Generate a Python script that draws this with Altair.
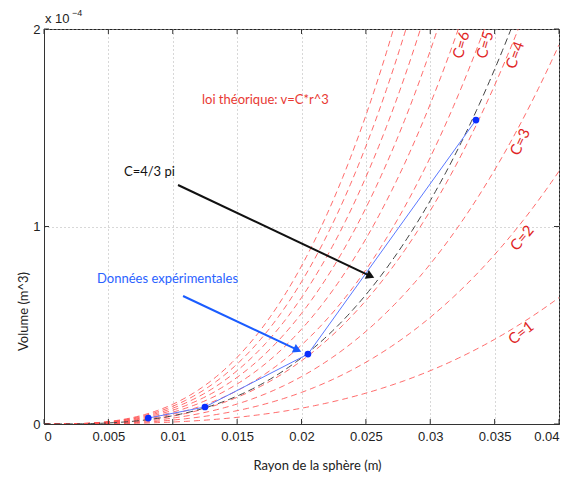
import altair as alt
import numpy as np
import pandas as pd

# ---- data ----
C_values = [1, 2, 3, 4, 5, 6, 7, 8, 9, 10]
C_sphere = 4.0 / 3.0 * np.pi
r_grid = np.linspace(0, 0.04, 201)

r_exp = [0.0081, 0.0125, 0.0205, 0.03355]
v_exp = [0.30e-5, 0.86e-5, 3.54e-5, 1.539e-4]

label_text = ["C=1", "C=2", "C=3", "C=4", "C=5", "C=6"]
label_r = [0.03705, 0.03713, 0.03697, 0.03658, 0.03425, 0.0324]
label_v = [0.461e-4, 0.942e-4, 1.428e-4, 1.868e-4, 1.919e-4, 1.919e-4]
label_angle = [322, 310, 295, 290, 286, 286]

x_ticks = [0, 0.005, 0.01, 0.015, 0.02, 0.025, 0.03, 0.035, 0.04]
y_ticks = [0, 1e-4, 2e-4]

curves = pd.DataFrame(
    [{"C": c, "r": r, "v": c * r ** 3} for c in C_values for r in r_grid]
)
sphere = pd.DataFrame({"r": r_grid, "v": C_sphere * r_grid ** 3})
exp = pd.DataFrame({"r": r_exp, "v": v_exp})
labels = pd.DataFrame({"t": label_text, "r": label_r, "v": label_v, "a": label_angle})

xs = alt.Scale(domain=[0, 0.04], nice=False)
ys = alt.Scale(domain=[0, 2e-4], nice=False)

X = alt.X("r:Q", scale=xs,
          axis=alt.Axis(values=x_ticks, format="~g", title="Rayon de la sphère (m)",
                        grid=True, gridDash=[1, 3], gridColor="#b0b0b0",
                        tickSize=0, labelPadding=6, labelFont="Liberation Sans",
                        labelFontSize=13, labelColor="#222", domainColor="#333",
                        titleFont="Lato", titleFontSize=13, titleFontWeight="normal",
                        titleColor="#222", titleX=273, titleY=41,
                        titleBaseline="middle", titleAlign="center"))
Y = alt.Y("v:Q", scale=ys,
          axis=alt.Axis(values=y_ticks, labelExpr="round(datum.value * 10000)",
                        title="Volume (m^3)",
                        grid=True, gridDash=[1, 3], gridColor="#b0b0b0",
                        tickSize=0, labelPadding=4, labelFont="Liberation Sans",
                        labelFontSize=13, labelColor="#222", domainColor="#333",
                        titleFont="Lato", titleFontSize=13, titleFontWeight="normal",
                        titleColor="#222", titleX=-21, titleY=282,
                        titleBaseline="middle", titleAlign="center", titleAngle=270))

red_curves = alt.Chart(curves).mark_line(
    clip=True, color="#ff5050", strokeWidth=1, strokeDash=[6, 4], opacity=0.85
).encode(x=X, y=Y, detail="C:N")

sphere_curve = alt.Chart(sphere).mark_line(
    clip=True, color="#444444", strokeWidth=1, strokeDash=[7, 4]
).encode(x="r:Q", y="v:Q")

exp_line = alt.Chart(exp).mark_line(color="#5a78ff", strokeWidth=1).encode(x="r:Q", y="v:Q")
exp_pts = alt.Chart(exp).mark_circle(color="#0a2dff", size=45, opacity=1).encode(x="r:Q", y="v:Q")

lab = alt.Chart(labels).mark_text(
    color="#e02424", font="Lato", fontSize=15, align="center", baseline="middle"
).encode(x="r:Q", y="v:Q", text="t:N", angle=alt.Angle("a:Q", scale=None))

ann = pd.DataFrame({
    "t": ["loi théorique: v=C*r^3", "C=4/3 pi", "Données expérimentales"],
    "r": [0.01227, 0.00621, 0.00412],
    "v": [1.64e-4, 1.276e-4, 0.734e-4],
    "c": ["#e83a33", "#111111", "#2a62ff"],
})
ann_text = alt.Chart(ann).mark_text(
    font="Lato", fontSize=13, align="left", baseline="middle"
).encode(x="r:Q", y="v:Q", text="t:N", color=alt.Color("c:N", scale=None))

arrows = pd.DataFrame({
    "r": [0.01041, 0.0108], "v": [1.210e-4, 0.648e-4],
    "r2": [0.02536, 0.01969], "v2": [0.749e-4, 0.375e-4],
    "c": ["#111111", "#1a5cff"],
})
arrow_lines = alt.Chart(arrows).mark_rule(strokeWidth=2).encode(
    x="r:Q", y="v:Q", x2="r2:Q", y2="v2:Q", color=alt.Color("c:N", scale=None))
heads = pd.DataFrame({"r": [0.02536, 0.01969], "v": [0.749e-4, 0.375e-4],
                      "c": ["#111111", "#1a5cff"], "a": [25, 25]})
arrow_heads = alt.Chart(heads).mark_point(shape="triangle-right", filled=True, size=90, opacity=1).encode(
    x="r:Q", y="v:Q", color=alt.Color("c:N", scale=None), angle=alt.Angle("a:Q", scale=None))

# inside ticks (box style)
xt = pd.DataFrame({"r": x_ticks})
yt = pd.DataFrame({"v": y_ticks})
tick_b = alt.Chart(xt).mark_rule(color="#333").encode(x="r:Q", y=alt.value(395), y2=alt.value(390))
tick_t = alt.Chart(xt).mark_rule(color="#333").encode(x="r:Q", y=alt.value(0), y2=alt.value(5))
tick_l = alt.Chart(yt).mark_rule(color="#333").encode(y="v:Q", x=alt.value(0), x2=alt.value(5))
tick_r = alt.Chart(yt).mark_rule(color="#333").encode(y="v:Q", x=alt.value(515), x2=alt.value(510))

exp_label = alt.Chart(pd.DataFrame({"t": ["x 10"]})).mark_text(
    font="Liberation Sans", fontSize=13, align="left", baseline="alphabetic", color="#222"
).encode(text="t:N", x=alt.value(1), y=alt.value(-6))
exp_sup = alt.Chart(pd.DataFrame({"t": ["−4"]})).mark_text(
    font="Liberation Sans", fontSize=9, align="left", baseline="alphabetic", color="#222"
).encode(text="t:N", x=alt.value(28), y=alt.value(-13))

chart = alt.layer(
    red_curves, sphere_curve, exp_line, exp_pts, lab, ann_text,
    arrow_lines, arrow_heads, tick_b, tick_t, tick_l, tick_r, exp_label, exp_sup
).properties(
    width=515, height=395,
    padding={"left": 36, "top": 21, "right": 7, "bottom": 53},
    autosize=alt.AutoSizeParams(type="none"),
    background="white",
).configure_view(stroke="#222", strokeWidth=1)

chart.save("out.html", embed_options={"renderer": "svg", "actions": False})
